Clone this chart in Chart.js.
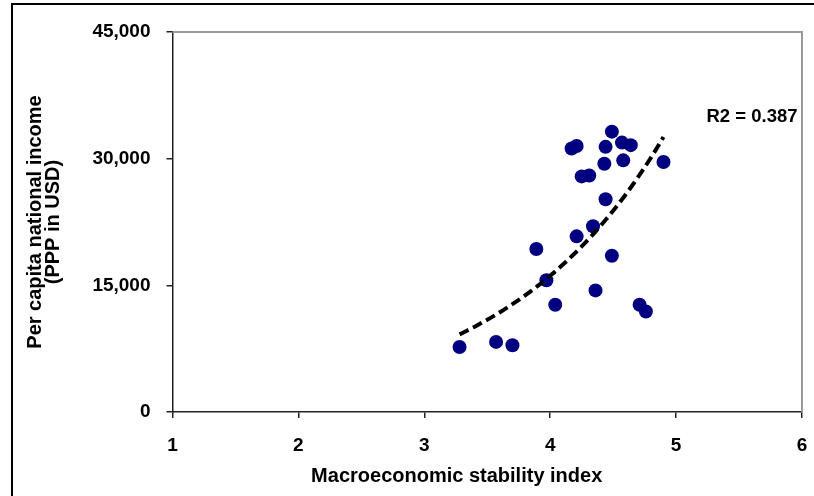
<!DOCTYPE html>
<html><head><meta charset="utf-8">
<script src="https://cdn.jsdelivr.net/npm/chart.js@4.4.1/dist/chart.umd.min.js"></script>
<style>
html,body{margin:0;padding:0;background:#fff;}
#wrap{position:relative;width:814px;height:496px;overflow:hidden;}
#frame{position:absolute;left:11px;top:3px;width:900px;height:700px;border-left:2px solid #000;border-top:2px solid #000;pointer-events:none;}
canvas{position:absolute;left:0;top:0;}
</style></head><body>
<div id="wrap"><canvas id="c" width="814" height="496"></canvas><div id="frame"></div></div>
<script>
// ---- data ----
const stabilityIndex = [4.49, 4.17, 4.21, 4.44, 4.57, 4.64, 4.43, 4.58, 4.90, 4.25, 4.31, 4.44, 4.34, 4.21, 3.89, 4.49, 3.97, 4.36, 4.04, 4.71, 4.76, 3.28, 3.57, 3.70];
const incomePPP = [33200, 31200, 31500, 31400, 31900, 31600, 29400, 29800, 29600, 27900, 28000, 25200, 22000, 20800, 19300, 18500, 15600, 14400, 12700, 12700, 11900, 7700, 8300, 7900];
const xTicks = [1, 2, 3, 4, 5, 6];
const yTicks = [0, 15000, 30000, 45000];
const xTitle = 'Macroeconomic stability index';
const yTitle = ['Per capita national income', '(PPP in USD)'];
const r2Label = 'R2 = 0.387';

// ---- exponential trendline fitted to the data (least squares on ln y) ----
const n = stabilityIndex.length;
const lny = incomePPP.map(Math.log);
const mx = stabilityIndex.reduce((a, b) => a + b, 0) / n;
const my = lny.reduce((a, b) => a + b, 0) / n;
let sxy = 0, sxx = 0;
for (let i = 0; i < n; i++) { sxy += (stabilityIndex[i] - mx) * (lny[i] - my); sxx += (stabilityIndex[i] - mx) ** 2; }
const slope = sxy / sxx;
const amp = Math.exp(my - slope * mx);
const xmin = Math.min(...stabilityIndex), xmax = Math.max(...stabilityIndex);
const trend = [];
for (let i = 0; i <= 60; i++) { const x = xmin + (xmax - xmin) * i / 60; trend.push({ x, y: amp * Math.exp(slope * x) }); }

const points = stabilityIndex.map((x, i) => ({ x, y: incomePPP[i] }));
const FONT = '"Liberation Sans", Arial, Helvetica, sans-serif';

const decor = {
  id: 'decor',
  beforeDatasetsDraw(chart) {
    const { ctx, chartArea: a } = chart;
    ctx.save();
    ctx.strokeStyle = '#9a9a9a'; ctx.lineWidth = 2;
    ctx.beginPath(); ctx.moveTo(a.left, a.top); ctx.lineTo(a.right, a.top); ctx.lineTo(a.right, a.bottom); ctx.stroke();
    ctx.restore();
  },
  afterDraw(chart) {
    const { ctx } = chart;
    ctx.save();
    ctx.fillStyle = '#000';
    ctx.font = 'bold 18.5px ' + FONT;
    ctx.textAlign = 'left'; ctx.textBaseline = 'middle';
    ctx.fillText(r2Label, 706.5, 117);
    ctx.font = 'bold 20px ' + FONT;
    ctx.textAlign = 'center';
    ctx.fillText(xTitle, 456.7, 476);
    ctx.restore();
  }
};

new Chart(document.getElementById('c'), {
  type: 'scatter',
  data: {
    datasets: [
      { label: 'trend', data: trend, showLine: true, pointRadius: 0, borderColor: '#000', borderWidth: 4, borderDash: [10, 5], fill: false, order: 0 },
      { label: 'countries', data: points, pointRadius: 7, pointBackgroundColor: '#000080', pointBorderColor: '#000080', pointBorderWidth: 0, order: 1 }
    ]
  },
  options: {
    responsive: false, animation: false, devicePixelRatio: 1,
    layout: { padding: { left: 13, top: 32, right: 12, bottom: 0 } },
    plugins: { legend: { display: false }, tooltip: { enabled: false } },
    scales: {
      x: {
        type: 'linear', min: 1, max: 6,
        afterFit(s) { s.height = 84; s.paddingLeft = 0; s.paddingRight = 0; },
        afterBuildTicks(s) { s.ticks = xTicks.map(v => ({ value: v })); },
        grid: { drawOnChartArea: false, drawTicks: true, tickLength: 6, color: '#222', lineWidth: 1.5 },
        border: { display: true, color: '#222', width: 1.5 },
        ticks: { padding: 16.5, color: '#000', maxRotation: 0, autoSkip: false, font: { family: FONT, size: 19, weight: 'bold' } }
      },
      y: {
        type: 'linear', min: 0, max: 45000,
        afterFit(s) { s.width = 159.5; s.paddingTop = 0; s.paddingBottom = 0; },
        afterBuildTicks(s) { s.ticks = yTicks.map(v => ({ value: v })); },
        grid: { drawOnChartArea: false, drawTicks: true, tickLength: 6, color: '#222', lineWidth: 1.5 },
        border: { display: true, color: '#222', width: 1.5 },
        ticks: { padding: 16, color: '#000', font: { family: FONT, size: 19, weight: 'bold' }, callback: v => v.toLocaleString('en-US') },
        title: { display: true, text: yTitle, color: '#000', padding: { top: 13, bottom: 0 }, font: { family: FONT, size: 20, weight: 'bold', lineHeight: 0.92 } }
      }
    }
  },
  plugins: [decor]
});
</script>
</body></html>
